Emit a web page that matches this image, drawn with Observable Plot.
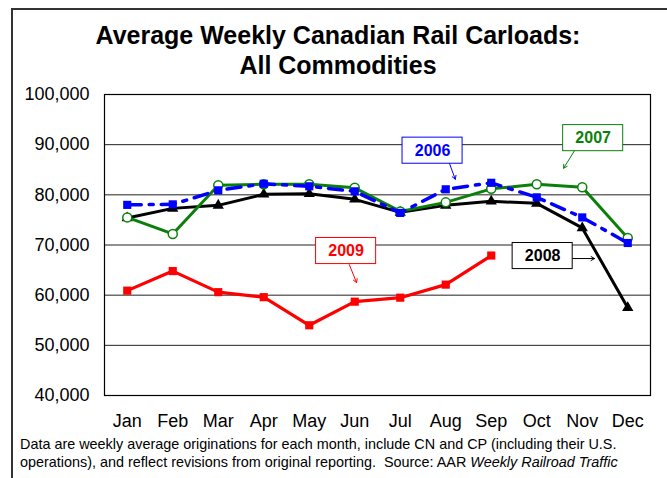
<!DOCTYPE html>
<html>
<head>
<meta charset="utf-8">
<script src="https://cdn.jsdelivr.net/npm/d3@7"></script>
<script src="https://cdn.jsdelivr.net/npm/@observablehq/plot@0.6"></script>
<style>
  html, body { margin: 0; padding: 0; background: #fff; }
  #wrap { position: relative; width: 667px; height: 478px; overflow: hidden; background: #fff;
          font-family: Arial, "Liberation Sans", sans-serif; }
  #border { position: absolute; left: 11px; top: 8px; width: 800px; height: 600px;
            border: 2px solid #333; box-sizing: border-box; }
  #title { position: absolute; left: 12px; width: 652px; top: 20px; text-align: center;
           font-weight: bold; font-size: 25px; line-height: 30px; color: #000; }
  #chart { position: absolute; left: 0; top: 0; }
  #note { position: absolute; left: 20px; top: 435px; font-size: 14.4px; line-height: 18px; color: #000; white-space: nowrap; }
</style>
</head>
<body>
<div id="wrap">
  <div id="border"></div>
  <div id="title">Average Weekly Canadian Rail Carloads:<br>All Commodities</div>
  <div id="chart"></div>
  <div id="note">Data are weekly average originations for each month, include CN and CP (including their U.S.<br>operations), and reflect revisions from original reporting.&nbsp; Source: AAR <i>Weekly Railroad Traffic</i></div>
</div>
<script>
const months = ["Jan","Feb","Mar","Apr","May","Jun","Jul","Aug","Sep","Oct","Nov","Dec"];
const yTicks = [40000, 50000, 60000, 70000, 80000, 90000, 100000];

const v2006 = [78000, 78100, 80900, 82200, 81700, 80700, 76400, 81100, 82400, 79500, 75500, 70400];
const v2007 = [75500, 72200, 81900, 82100, 82100, 81400, 76700, 78500, 81200, 82100, 81500, 71400];
const v2008 = [75400, 77300, 77900, 80100, 80200, 79100, 76500, 77900, 78700, 78300, 73400, 57500];
const v2009 = [60900, 64800, 60600, 59600, 54000, 58700, 59500, 62100, 67900];

const labels = ["2006", "2007", "2008", "2009"];
const colors = ["#0000ff", "#0a800a", "#000000", "#ff0000"];
// annotation boxes: center (month position, value) and arrow from/to
const annX = [7.71, 11.24, 10.13, 5.81];
const annY = [88800, 91300, 67800, 68800];
const arrX1 = [8.08, 10.83, 10.79, 5.88];
const arrY1 = [86300, 88800, 67300, 66100];
const arrX2 = [8.21, 10.59, 11.27, 6.04];
const arrY2 = [83100, 85300, 67300, 62500];

const toRows = (vals, year) => vals.map((v, i) => ({m: i + 1, v, year}));
const d2006 = toRows(v2006, "2006");
const d2007 = toRows(v2007, "2007");
const d2008 = toRows(v2008, "2008");
const d2009 = toRows(v2009, "2009");
const ann = labels.map((t, i) => ({t, c: colors[i], x: annX[i], y: annY[i],
  x1: arrX1[i], y1: arrY1[i], x2: arrX2[i], y2: arrY2[i]}));

const plot = Plot.plot({
  width: 667, height: 478,
  marginLeft: 104, marginRight: 17, marginTop: 94, marginBottom: 83,
  style: {fontFamily: "Arial, 'Liberation Sans', sans-serif", fontSize: "18px", background: "transparent", color: "#000", overflow: "visible"},
  x: {type: "linear", domain: [0.5, 12.5]},
  y: {domain: [40000, 100000]},
  marks: [
    Plot.gridY(yTicks, {stroke: "#222", strokeOpacity: 1, strokeWidth: 1}),
    Plot.frame({stroke: "#000", strokeWidth: 1.2}),
    Plot.axisY(yTicks, {tickSize: 0, tickPadding: 15, tickFormat: d3.format(","), fontSize: 18, label: null}),
    Plot.axisX(d3.range(1, 13), {tickSize: 0, tickPadding: 19, tickFormat: i => months[i - 1], fontSize: 18, label: null}),
    Plot.line(d2009, {x: "m", y: "v", stroke: colors[3], strokeWidth: 3.2}),
    Plot.dot(d2009, {x: "m", y: "v", symbol: "square", r: 4.6, fill: colors[3]}),
    Plot.line(d2008, {x: "m", y: "v", stroke: colors[2], strokeWidth: 3}),
    Plot.dot(d2008, {x: "m", y: "v", symbol: "triangle", r: 4.2, fill: colors[2]}),
    Plot.line(d2007, {x: "m", y: "v", stroke: colors[1], strokeWidth: 3}),
    Plot.dot(d2007, {x: "m", y: "v", r: 4.5, fill: "white", stroke: colors[1], strokeWidth: 1.5}),
    Plot.line(d2006, {x: "m", y: "v", stroke: colors[0], strokeWidth: 3.5, strokeDasharray: "14,8,4,8"}),
    Plot.dot(d2006, {x: "m", y: "v", symbol: "square", r: 4.6, fill: colors[0]}),
    Plot.arrow(ann, {x1: "x1", y1: "y1", x2: "x2", y2: "y2", stroke: "c", strokeWidth: 1, headLength: 6}),
    Plot.rect(ann, {x1: d => d.x - 0.66, x2: d => d.x + 0.66, y1: d => d.y - 2600, y2: d => d.y + 2600,
      fill: "white", stroke: "c", strokeWidth: 1}),
    Plot.text(ann, {x: "x", y: "y", text: "t", fill: "c", fontWeight: "bold", fontSize: 16})
  ]
});
document.getElementById("chart").appendChild(plot);
</script>
</body>
</html>
